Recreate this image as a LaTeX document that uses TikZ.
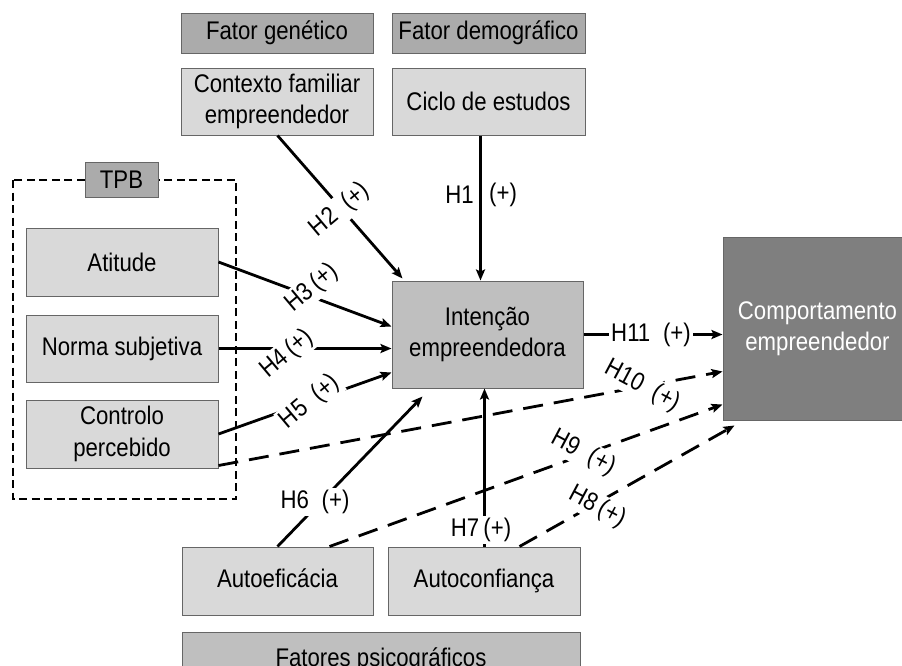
\documentclass[tikz,border=0pt]{standalone}
\usepackage{fontspec}
\setmainfont{Liberation Sans}[FakeStretch=0.87]
\usetikzlibrary{arrows.meta,calc}
\definecolor{hdrgray}{HTML}{ABABAB}
\definecolor{lightbox}{HTML}{D9D9D9}
\definecolor{midbox}{HTML}{BFBFBF}
\definecolor{darkbox}{HTML}{7F7F7F}
\definecolor{edge}{HTML}{666666}
\begin{document}
\begin{tikzpicture}[x=1pt,y=-1pt,
  font=\fontsize{25.5}{31.5}\selectfont,
  box/.style={draw=edge, line width=1pt, align=center, inner sep=0pt},
  header/.style={box, fill=hdrgray},
  factor/.style={box, fill=lightbox, minimum width=192pt, minimum height=68pt},
  oneline/.style={text height=18pt, text depth=6pt},
  link/.style={line width=2.8pt, -{Stealth[length=11pt,width=9pt,inset=2pt]}},
  dlink/.style={link, dash pattern=on 20pt off 11pt},
  hyp/.style={fill=white, inner sep=2pt},
]
\useasboundingbox (0,0) rectangle (902,665);
\clip (0,0) rectangle (902,665);

% group headers
\node[header, minimum width=192pt, minimum height=40pt] (gen) at (277,33) {Fator genético};
\node[header, minimum width=193pt, minimum height=40pt] (dem) at (488.5,33) {Fator demográfico};
\node[box, fill=midbox, minimum width=398pt, minimum height=56pt] (psi) at (381,660) {Fatores psicográficos};

% TPB group frame
\draw[line width=2.8pt, dash pattern=on 8pt off 4.5pt] (13,180) rectangle (236,499);
\node[header, minimum width=73pt, minimum height=35pt] (tpb) at (121.5,179.5) {TPB};

% antecedents
\node[factor, minimum height=67pt] (ctx) at (277,101.5) {Contexto familiar\\empreendedor};
\node[factor, minimum width=193pt, minimum height=67pt] (cic) at (488.5,101.5) {Ciclo de estudos};
\node[factor] (ati) at (122,262) {Atitude};
\node[factor, minimum height=67pt] (nor) at (122,348.5) {Norma subjetiva};
\node[factor] (con) at (122,434) {Controlo\\percebido};
\node[factor, oneline, minimum width=191pt] (aef) at (277.5,581) {Autoeficácia};
\node[factor, oneline] (acf) at (484,581) {Autoconfiança};

% outcomes
\node[box, fill=midbox, minimum width=191pt, minimum height=107pt] (int) at (487.5,334.5) {Intenção\\empreendedora};
\node[box, fill=darkbox, text=white, minimum width=189pt, minimum height=183pt] (com) at (817.5,328.5) {Comportamento\\empreendedor};

% hypotheses towards the intention
\draw[link] ($(cic.south west)+(89,0)$) -- ($(int.north west)+(89,0)$);
\draw[link] ($(ctx.south west)+(97,0)$) -- ($(int.north west)+(11,-2)$);
\draw[link] (ati.east) -- ($(int.west)+(0,-8)$);
\draw[link] (nor.east) -- (int.west |- nor.east);
\draw[link] (con.east) -- ($(int.west)+(0,38)$);
\draw[link] ($(aef.north west)+(96,0)$) -- ($(int.south west)+(31,8)$);
\draw[link] ($(acf.north west)+(97,0)$) -- ($(int.south west)+(93,0)$);

% hypotheses towards the behaviour
\draw[dlink] ($(con.south east)+(0,-3)$) -- ($(com.west)+(0,43)$);
\draw[dlink] ($(aef.north west)+(148,0)$) -- ($(com.west)+(0,76)$);
\draw[dlink] ($(acf.north west)+(132,0)$) -- ($(com.south west)+(12,5)$);
\draw[link] (int.east) -- (com.west |- int.east);

% hypothesis labels
\node[anchor=east, inner sep=0pt] (h1a) at (474,195) {H1};
\node[anchor=west, inner sep=0pt] (h1b) at (489,195) {(+)};
\node[hyp, rotate=40] (h2) at (340,210) {H2\enspace(+)};
\node[hyp, rotate=40] (h3) at (312,288) {H3\,(+)};
\node[hyp, rotate=40] (h4) at (287,354) {H4\,(+)};
\node[hyp, rotate=40] (h5) at (310,402) {H5\enspace(+)};
\node[hyp] (h6) at (315,502) {H6\enspace(+)};
\node[hyp] (h7) at (481,530) {H7\,(+)};
\node[hyp, rotate=-28] (h8) at (597,507) {H8\,(+)};
\node[hyp, rotate=-28] (h9) at (583,453) {H9\enspace(+)};
\node[hyp, rotate=-28] (h10) at (642,386) {H10\enspace(+)};
\node[hyp] (h11) at (651,334.5) {H11\enspace(+)};
\end{tikzpicture}
\end{document}
